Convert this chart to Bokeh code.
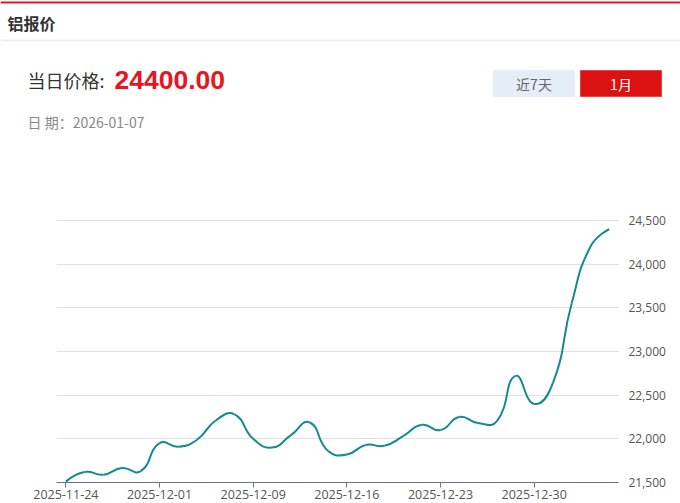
from bokeh.plotting import figure
from bokeh.layouts import column
from bokeh.models import Range1d, LinearAxis, FixedTicker, NumeralTickFormatter
from bokeh.core.properties import value
from bokeh.embed import file_html
from bokeh.resources import INLINE
import math

# ---------------- data ----------------
dates = ["2025-11-24", "2025-11-25", "2025-11-26", "2025-11-27", "2025-11-28",
         "2025-12-01", "2025-12-02", "2025-12-03", "2025-12-04", "2025-12-05",
         "2025-12-09", "2025-12-10", "2025-12-11", "2025-12-12", "2025-12-15",
         "2025-12-16", "2025-12-17", "2025-12-18", "2025-12-19", "2025-12-22",
         "2025-12-23", "2025-12-24", "2025-12-25", "2025-12-26", "2025-12-29",
         "2025-12-30", "2025-12-31", "2026-01-05", "2026-01-06", "2026-01-07"]
prices = [21510, 21620, 21590, 21665, 21630, 21950, 21910, 21990, 22210, 22280,
          22000, 21900, 22040, 22190, 21860, 21820, 21930, 21920, 22030, 22160,
          22100, 22250, 22180, 22200, 22720, 22400, 22640, 23550, 24200, 24400]
y_ticks = [21500, 22000, 22500, 23000, 23500, 24000, 24500]
y_min, y_max = 21500, 24500
label_step = 5

title_text = "铝报价"
price_label = "当日价格:"
price_text = "24400.00"
date_text = "日 期：2026-01-07"
btn_labels = ["近7天", "1月"]

CJK = "Noto Sans CJK SC"
LAT = "Open Sans"

# ---------------- header ----------------
W = 680
HEAD_H = 210
CHART_H = 293
BL, BR, BT, BB = 56, 62, 8, 21
TOP_PAD_PX = 2

head = figure(width=W, height=HEAD_H, x_range=Range1d(0, W), y_range=Range1d(HEAD_H, 0),
              output_backend="svg", toolbar_location=None,
              x_axis_location=None, y_axis_location=None, min_border=0)
head.frame_align = False
head.grid.visible = False
head.outline_line_color = None

head.quad(left=[0], right=[W], top=[1], bottom=[3], fill_color="#e3161d", line_color=None)
head.segment(x0=[0], y0=[40], x1=[W], y1=[40], line_color="#ececec", line_width=1.5)

head.text(x=[7], y=[22.5], text=[title_text], text_font=value(CJK), text_font_size="16px",
          text_font_style="bold", text_color="#333333", text_baseline="middle", text_align="left")
head.text(x=[27], y=[79], text=[price_label], text_font=value(CJK), text_font_size="18px",
          text_color="#333333", text_baseline="middle", text_align="left")
head.text(x=[114], y=[79], text=[price_text], text_font=value("Liberation Sans"), text_font_size="26.5px",
          text_font_style="bold", text_color="#ea141e", text_baseline="middle", text_align="left")
head.text(x=[27], y=[121], text=[date_text], text_font=value(CJK), text_font_size="14px",
          text_color="#888888", text_baseline="middle", text_align="left")

head.quad(left=[493, 580], right=[574, 661], top=[70, 70], bottom=[96, 96],
          fill_color=["#e5edf7", "#dc1111"], line_color=["#e5edf7", "#e64545"])
head.text(x=[533.5, 620.5], y=[83, 83], text=btn_labels, text_font=value(CJK), text_font_size="14px",
          text_color=["#666666", "#ffffff"], text_baseline="middle", text_align="center")

# ---------------- chart ----------------
n = len(prices)
frame_w = W - BL - BR
frame_h = CHART_H - BT - BB
sx = frame_w / n
sy = (frame_h - TOP_PAD_PX) / (y_max - y_min)
y_top = y_max + TOP_PAD_PX / sy

chart = figure(width=W, height=CHART_H, x_range=Range1d(-0.5, n - 0.5), y_range=Range1d(y_min, y_top),
               output_backend="svg", toolbar_location=None, y_axis_location=None,
               min_border_left=BL, min_border_right=BR, min_border_top=BT, min_border_bottom=BB)
chart.frame_align = False
chart.outline_line_color = None
chart.xgrid.visible = False
chart.ygrid.ticker = FixedTicker(ticks=y_ticks)
chart.ygrid.grid_line_color = "#e0e0e0"
chart.ygrid.grid_line_width = 1

ticks = list(range(0, n, label_step))
chart.xaxis.ticker = FixedTicker(ticks=ticks)
chart.xaxis.major_label_overrides = {t: dates[t] for t in ticks}
chart.xaxis.axis_line_color = "#6e7079"
chart.xaxis.major_tick_line_color = "#6e7079"
chart.xaxis.major_tick_out = 5
chart.xaxis.major_tick_in = 0
chart.xaxis.minor_tick_line_color = None
chart.xaxis.major_label_standoff = 2
chart.xaxis.major_label_text_font = LAT
chart.xaxis.major_label_text_font_size = "12.5px"
chart.xaxis.major_label_text_color = "#555555"

yaxis = LinearAxis(ticker=FixedTicker(ticks=y_ticks), formatter=NumeralTickFormatter(format="0,0"))
yaxis.axis_line_color = None
yaxis.major_tick_line_color = None
yaxis.minor_tick_line_color = None
yaxis.major_tick_out = 0
yaxis.major_tick_in = 0
yaxis.major_label_standoff = 10
yaxis.major_label_text_font = LAT
yaxis.major_label_text_font_size = "12px"
yaxis.major_label_text_color = "#555555"
chart.add_layout(yaxis, "right")

# smooth curve (ECharts-like bezier smoothing, smooth=0.5) computed in pixel space
xs = list(range(n))
P = [(x * sx, (v - y_min) * sy) for x, v in zip(xs, prices)]
s = 0.5
cp_out, cp_in = [], []
for i in range(n):
    px, py = P[i]
    if i == 0 or i == n - 1:
        cp_out.append((px, py)); cp_in.append((px, py)); continue
    ax, ay = P[i - 1]; bx, by = P[i + 1]
    vx, vy = bx - ax, by - ay
    l0 = math.hypot(px - ax, py - ay); l1 = math.hypot(bx - px, by - py)
    r = l1 / (l0 + l1)
    cp_out.append((px + vx * s * r, py + vy * s * r))
    cp_in.append((px - vx * s * (1 - r), py - vy * s * (1 - r)))

def bx_(v): return v / sx
def by_(v): return v / sy + y_min

chart.bezier(x0=[xs[i] for i in range(n - 1)], y0=[prices[i] for i in range(n - 1)],
             x1=[xs[i + 1] for i in range(n - 1)], y1=[prices[i + 1] for i in range(n - 1)],
             cx0=[bx_(cp_out[i][0]) for i in range(n - 1)], cy0=[by_(cp_out[i][1]) for i in range(n - 1)],
             cx1=[bx_(cp_in[i + 1][0]) for i in range(n - 1)], cy1=[by_(cp_in[i + 1][1]) for i in range(n - 1)],
             line_color="#138b8c", line_width=2)

layout = column(head, chart, spacing=0)
open("out.html", "w").write(file_html(layout, INLINE))
